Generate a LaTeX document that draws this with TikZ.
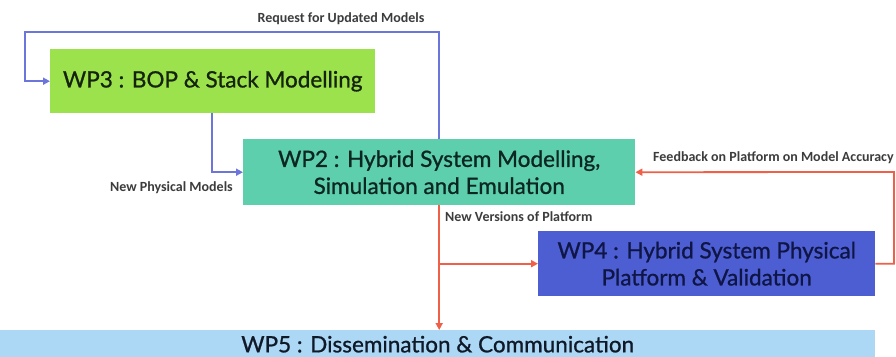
\documentclass[tikz,border=0pt]{standalone}
\usepackage{fontspec}
\setmainfont{Lato}[FakeBold=1.6,AutoFakeBold=1.6]
\newfontfamily\boxfont{Lato}[FakeBold=0.9]
\newfontfamily\lblfont{Carlito}
\usetikzlibrary{arrows.meta}
\definecolor{wpthree}{RGB}{156,226,76}
\definecolor{wptwo}{RGB}{94,207,173}
\definecolor{wpfour}{RGB}{76,94,210}
\definecolor{wpfive}{RGB}{172,216,245}
\definecolor{blueln}{RGB}{108,118,218}
\definecolor{redln}{RGB}{240,96,72}
\definecolor{lbltxt}{RGB}{60,60,60}
\tikzset{
  wpbox/.style={rectangle, inner sep=0pt, anchor=north west, align=center, font=\boxfont\fontsize{22.5}{27}\selectfont},
  conn/.style={line width=1.8pt},
  bluec/.style={conn, draw=blueln},
  redc/.style={conn, draw=redln},
  tip/.style={-{Triangle[length=7pt,width=7pt]}},
  lbl/.style={inner sep=0pt, text=lbltxt, font=\lblfont\bfseries\fontsize{14}{16}\selectfont}
}
\begin{document}
\begin{tikzpicture}[x=1pt,y=-1pt]
\clip (0,0) rectangle (896,356);
\useasboundingbox (0,0) rectangle (896,356);
\fill[white] (0,0) rectangle (896,356);
% boxes
\node[wpbox, fill=wpthree, minimum width=325pt, minimum height=64pt, text={rgb,255:red,20;green,35;blue,10}] (wp3) at (50,49) {WP3 : BOP \& Stack Modelling};
\node[wpbox, fill=wptwo, minimum width=392pt, minimum height=66pt, text={rgb,255:red,12;green,38;blue,32}] (wp2) at (243,139) {WP2 : Hybrid System Modelling,\\Simulation and Emulation};
\node[wpbox, fill=wpfour, minimum width=337pt, minimum height=65pt, text={rgb,255:red,15;green,22;blue,70}] (wp4) at (538,231) {WP4 : Hybrid System Physical\\Platform \& Validation};
\node[wpbox, fill=wpfive, minimum width=875pt, minimum height=28pt, text={rgb,255:red,15;green,25;blue,40}] (wp5) at (0,330) {WP5 : Dissemination \& Communication};
% coordinates
\coordinate (rq) at (25,32);
\coordinate (np) at (212,172);
\coordinate (fb) at (894,172);
% blue connectors
\draw[bluec, tip] (wp2.north) |- (rq) |- (wp3.west);
\draw[bluec, tip] (wp3.south -| np) |- (wp2.west);
% red connectors
\draw[redc, tip] (wp2.south) -- (wp2.south |- wp5.north);
\draw[redc, tip] (wp2.south |- wp4.west) -- (wp4.west);
\draw[redc, tip] (wp4.east) -| (fb) -- (wp2.east);
% labels
\node[lbl] (l1) at (341,19) {Request for Updated Models};
\node[lbl, anchor=east] (l2) at (233,188) {New Physical Models};
\node[lbl, anchor=west] (l3) at (445,217) {New Versions of Platform};
\node[lbl, anchor=west] (l4) at (653,158) {Feedback on Platform on Model Accuracy};
\end{tikzpicture}
\end{document}
